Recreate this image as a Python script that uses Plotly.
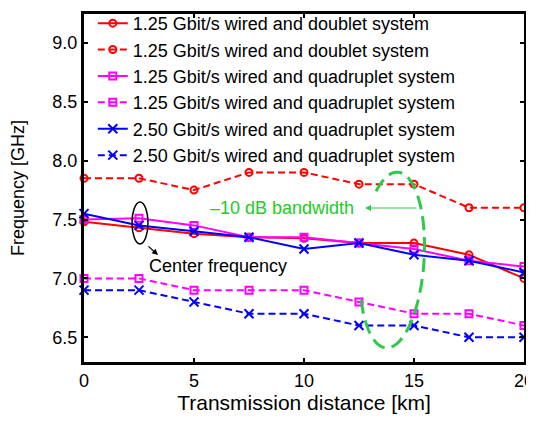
import numpy as np
import plotly.graph_objects as go

# ---- data ----
distance_km = [0, 2.5, 5, 7.5, 10, 12.5, 15, 17.5, 20]
red_solid = [7.48, 7.43, 7.38, 7.35, 7.34, 7.30, 7.30, 7.20, 7.00]
red_dashed = [7.85, 7.85, 7.75, 7.90, 7.90, 7.80, 7.80, 7.60, 7.60]
mag_solid = [7.50, 7.51, 7.45, 7.35, 7.35, 7.30, 7.25, 7.15, 7.10]
mag_dashed = [7.00, 7.00, 6.90, 6.90, 6.90, 6.80, 6.70, 6.70, 6.60]
blue_solid = [7.55, 7.45, 7.40, 7.35, 7.25, 7.30, 7.20, 7.15, 7.05]
blue_dashed = [6.90, 6.90, 6.80, 6.70, 6.70, 6.60, 6.60, 6.50, 6.50]
names = [
    "1.25 Gbit/s wired and doublet system",
    "1.25 Gbit/s wired and doublet system",
    "1.25 Gbit/s wired and quadruplet system",
    "1.25 Gbit/s wired and quadruplet system",
    "2.50 Gbit/s wired and quadruplet system",
    "2.50 Gbit/s wired and quadruplet system",
]
x_ticks = [0, 5, 10, 15, 20]
y_ticks = [6.5, 7.0, 7.5, 8.0, 8.5, 9.0]

FONT = "Liberation Sans, Arial, sans-serif"
RED, MAG, BLUE, GREEN = "#ff0000", "#ff00ff", "#0000ff", "#2ec84a"
DASH = "7px,4px"

series = [
    (red_solid, RED, "solid", "circle-open", 7),
    (red_dashed, RED, DASH, "circle-open", 7),
    (mag_solid, MAG, "solid", "square-open", 7),
    (mag_dashed, MAG, DASH, "square-open", 7),
    (blue_solid, BLUE, "solid", "x-thin-open", 9),
    (blue_dashed, BLUE, DASH, "x-thin-open", 9),
]

fig = go.Figure()
for i, (vals, col, dash, sym, sz) in enumerate(series):
    fig.add_trace(go.Scatter(
        x=distance_km, y=vals, name=names[i], mode="lines+markers",
        legendgroup=f"g{i}",
        line=dict(color=col, width=2, dash=dash),
        marker=dict(symbol=sym, size=sz, color=col, line=dict(color=col, width=2)),
        cliponaxis=False,
    ))

# page offset: browser body has 8px margin on every side (content area 518 x 406)
OFF = 8
W, H = 534 - 2 * OFF, 422 - 2 * OFF

# desired plot-area edges in page pixels
X0P, X1P = 84, 524
Y0P, Y1P = 362, 14
Y_RANGE = [6.29, 9.245]

def px2x(p):
    return (p - X0P) / (X1P - X0P) * 20.0

def py2y(p):
    return Y_RANGE[0] + (Y0P - p) / (Y0P - Y1P) * (Y_RANGE[1] - Y_RANGE[0])

# green dashed ellipse (partial)
cx, cy, a, b = 392, 260, 88, 32
u = np.array([0.068, -0.998])
v = np.array([0.998, 0.068])
t = np.radians(np.linspace(-40, 245, 120))
pts = [np.array([cx, cy]) + a * np.cos(tt) * u + b * np.sin(tt) * v for tt in t]
path = "M " + " L ".join(f"{px2x(p[0]):.4f},{py2y(p[1]):.4f}" for p in pts)
fig.add_shape(type="path", path=path, xref="x", yref="y",
              line=dict(color=GREEN, width=3, dash="14px,7px"))

# black ellipse around center frequency
fig.add_shape(type="circle", xref="x", yref="y",
              x0=px2x(132), x1=px2x(148), y0=py2y(244), y1=py2y(202),
              line=dict(color="black", width=1.5))

fig.add_annotation(x=px2x(365), y=py2y(208), ax=53, ay=0, showarrow=True,
                   arrowhead=2, arrowsize=1, arrowwidth=1.2, arrowcolor=GREEN, text="")
fig.add_annotation(x=px2x(282), y=py2y(208), text="\u201310 dB bandwidth", showarrow=False,
                   font=dict(family=FONT, size=18, color="#22cc22"))
fig.add_annotation(x=px2x(158), y=py2y(255), ax=-11, ay=-10, showarrow=True,
                   arrowhead=2, arrowsize=1, arrowwidth=1.2, arrowcolor="black", text="")
fig.add_annotation(x=px2x(218), y=py2y(266), text="Center frequency", showarrow=False,
                   font=dict(family=FONT, size=18, color="black"))

axis_common = dict(showline=True, linecolor="black", linewidth=3, mirror="ticks",
                   ticks="inside", ticklen=4, tickwidth=2, tickcolor="black",
                   showgrid=False, zeroline=False, ticklabeloverflow="allow",
                   tickfont=dict(family=FONT, size=18, color="black"))

fig.update_xaxes(range=[0, 20], tickvals=x_ticks, ticktext=[str(v) for v in x_ticks],
                 title=dict(text="Transmission distance [km]",
                            font=dict(family=FONT, size=21, color="black"), standoff=8),
                 **axis_common)
fig.update_yaxes(range=Y_RANGE, tickvals=y_ticks, ticktext=[f"{v:.1f}" for v in y_ticks],
                 title=dict(text="Frequency [GHz]",
                            font=dict(family=FONT, size=18, color="black"), standoff=25),
                 **axis_common)

fig.update_layout(
    width=W, height=H,
    margin=dict(l=X0P - OFF, r=W - (X1P - OFF), t=Y1P - OFF, b=H - (Y0P - OFF), autoexpand=False),
    plot_bgcolor="white", paper_bgcolor="white",
    font=dict(family=FONT, size=18, color="black"),
    legend=dict(x=0.02, y=1.026, xanchor="left", yanchor="top",
                bgcolor="rgba(0,0,0,0)", borderwidth=0,
                font=dict(family=FONT, size=18, color="black"),
                traceorder="grouped", tracegroupgap=0, itemwidth=30),
)

fig.write_html("out.html")
